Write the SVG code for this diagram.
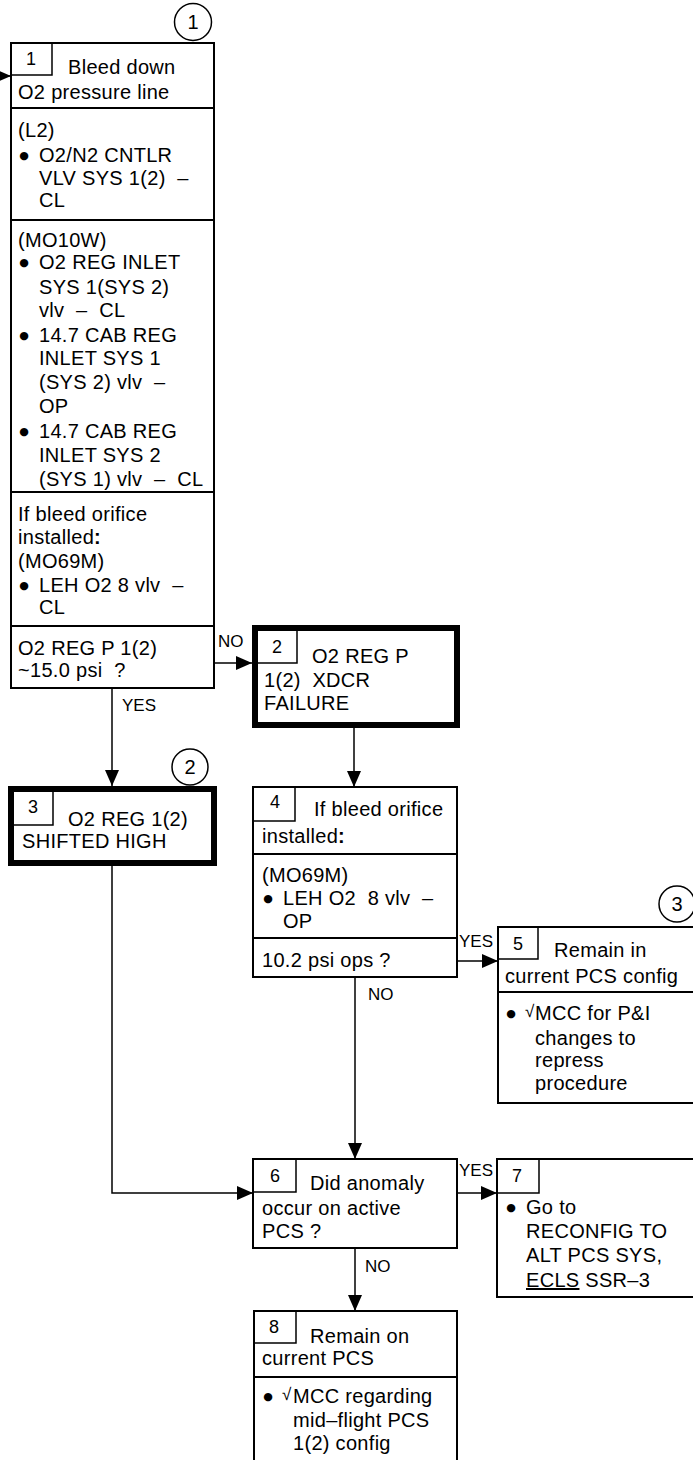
<svg xmlns="http://www.w3.org/2000/svg" width="693" height="1460" viewBox="0 0 693 1460">
<style>
text{font-family:"Liberation Sans",Arial,sans-serif;fill:#000}
.t{font-size:20px;letter-spacing:0.3px}
.n{font-size:18px;text-anchor:middle}
.l{font-size:17px}
.c{font-size:20px;text-anchor:middle}
.b{font-family:"DejaVu Sans",sans-serif;font-size:11px;text-anchor:middle}
.ck{font-family:"Liberation Sans",Arial,sans-serif;font-size:17px}
.box{fill:#fff;stroke:#000;stroke-width:2}
.thick{fill:#fff;stroke:#000;stroke-width:6}
.ln{fill:none;stroke:#000;stroke-width:1.5}
.div{fill:none;stroke:#000;stroke-width:2}
.cn{fill:none;stroke:#000;stroke-width:1.5;marker-end:url(#ah)}
.circ{fill:#fff;stroke:#000;stroke-width:1.5}
</style>
<defs>
<marker id="ah" markerUnits="userSpaceOnUse" markerWidth="16" markerHeight="14" refX="16" refY="7" orient="auto">
<path d="M0,0 L16,7 L0,14 z" fill="#000"/>
</marker>
</defs>
<rect width="693" height="1460" fill="#fff"/>

<g id="connectors">
<path class="cn" d="M-10 76 H11"/>
<path class="cn" d="M214 663 H252"/>
<path class="cn" d="M112 688 V786"/>
<path class="cn" d="M354 728 V787"/>
<path class="cn" d="M457 961 H498"/>
<path class="cn" d="M355 977 V1159"/>
<path class="cn" d="M112 866 V1193 H253"/>
<path class="cn" d="M457 1193 H497"/>
<path class="cn" d="M355 1248 V1311"/>
<text class="l" x="218" y="647">NO</text>
<text class="l" x="122" y="711">YES</text>
<text class="l" x="459" y="947">YES</text>
<text class="l" x="368" y="1000">NO</text>
<text class="l" x="459" y="1176">YES</text>
<text class="l" x="365" y="1272">NO</text>
</g>

<g id="circle1">
<circle class="circ" cx="193" cy="22" r="18.5"/>
<text class="c" x="193" y="29">1</text>
</g>
<g id="circle2">
<circle class="circ" cx="190" cy="767" r="18"/>
<text class="c" x="190" y="774">2</text>
</g>
<g id="circle3">
<circle class="circ" cx="677" cy="904" r="18"/>
<text class="c" x="677" y="911">3</text>
</g>

<g id="node1">
<rect class="box" x="11" y="43" width="203" height="645"/>
<path class="ln" d="M52 43 V75 H11"/>
<path class="div" d="M11 108 H214 M11 220 H214 M11 492 H214 M11 626 H214"/>
<text class="n" x="31" y="65">1</text>
<text class="t" x="68" y="74">Bleed down</text>
<text class="t" x="18" y="99">O2 pressure line</text>
<text class="t" x="18" y="137">(L2)</text>
<text class="b" x="24" y="159">●</text>
<text class="t" x="39" y="162">O2/N2 CNTLR</text>
<text class="t" x="39" y="185">VLV SYS 1(2) &#160;–</text>
<text class="t" x="39" y="207">CL</text>
<text class="t" x="18" y="247">(MO10W)</text>
<text class="b" x="24" y="266">●</text>
<text class="t" x="39" y="269">O2 REG INLET</text>
<text class="t" x="39" y="294">SYS 1(SYS 2)</text>
<text class="t" x="39" y="317">vlv &#160;– &#160;CL</text>
<text class="b" x="24" y="339">●</text>
<text class="t" x="39" y="342">14.7 CAB REG</text>
<text class="t" x="39" y="365">INLET SYS 1</text>
<text class="t" x="39" y="389">(SYS 2) vlv &#160;–</text>
<text class="t" x="39" y="413">OP</text>
<text class="b" x="24" y="435">●</text>
<text class="t" x="39" y="438">14.7 CAB REG</text>
<text class="t" x="39" y="462">INLET SYS 2</text>
<text class="t" x="39" y="486">(SYS 1) vlv &#160;– &#160;CL</text>
<text class="t" x="18" y="521">If bleed orifice</text>
<text class="t" x="18" y="544">installed<tspan font-weight="bold">:</tspan></text>
<text class="t" x="18" y="568">(MO69M)</text>
<text class="b" x="24" y="589">●</text>
<text class="t" x="39" y="592">LEH O2 8 vlv &#160;–</text>
<text class="t" x="39" y="614">CL</text>
<text class="t" x="18" y="655">O2 REG P 1(2)</text>
<text class="t" x="18" y="677">~15.0 psi &#160;?</text>
</g>

<g id="node2">
<rect class="thick" x="255" y="628" width="202" height="97"/>
<path class="ln" d="M297 628 V663 H255"/>
<text class="n" x="277" y="653">2</text>
<text class="t" x="312" y="663">O2 REG P</text>
<text class="t" x="264" y="687">1(2) &#160;XDCR</text>
<text class="t" x="264" y="710">FAILURE</text>
</g>

<g id="node3">
<rect class="thick" x="11" y="789" width="203" height="74"/>
<path class="ln" d="M53 789 V825 H11"/>
<text class="n" x="33" y="813">3</text>
<text class="t" x="68" y="826">O2 REG 1(2)</text>
<text class="t" x="22" y="848">SHIFTED HIGH</text>
</g>

<g id="node4">
<rect class="box" x="253" y="787" width="204" height="190"/>
<path class="ln" d="M295 787 V821 H253"/>
<path class="div" d="M253 854 H457"/>
<path class="div" d="M253 938 H457" stroke-width="2.5"/>
<text class="n" x="275" y="808">4</text>
<text class="t" x="314" y="816">If bleed orifice</text>
<text class="t" x="262" y="843">installed<tspan font-weight="bold">:</tspan></text>
<text class="t" x="262" y="882">(MO69M)</text>
<text class="b" x="268" y="902">●</text>
<text class="t" x="283" y="905">LEH O2 &#160;8 vlv &#160;–</text>
<text class="t" x="283" y="928">OP</text>
<text class="t" x="262" y="967">10.2 psi ops ?</text>
</g>

<g id="node5">
<rect class="box" x="498" y="927" width="197" height="176"/>
<path class="ln" d="M538 927 V959 H498"/>
<path class="div" d="M498 992 H695"/>
<text class="n" x="518" y="950">5</text>
<text class="t" x="554" y="957">Remain in</text>
<text class="t" x="505" y="983">current PCS config</text>
<text class="b" x="511" y="1017">●</text>
<text class="ck" x="525" y="1017">√</text>
<text class="t" x="535" y="1020">MCC for P&amp;I</text>
<text class="t" x="535" y="1045">changes to</text>
<text class="t" x="535" y="1067">repress</text>
<text class="t" x="535" y="1090">procedure</text>
</g>

<g id="node6">
<rect class="box" x="253" y="1159" width="204" height="89"/>
<path class="ln" d="M296 1159 V1192 H253"/>
<text class="n" x="275" y="1182">6</text>
<text class="t" x="310" y="1190">Did anomaly</text>
<text class="t" x="262" y="1215">occur on active</text>
<text class="t" x="262" y="1238">PCS ?</text>
</g>

<g id="node7">
<rect class="box" x="497" y="1159" width="198" height="138"/>
<path class="ln" d="M539 1159 V1193 H497"/>
<text class="n" x="517" y="1182">7</text>
<text class="b" x="511" y="1211">●</text>
<text class="t" x="526" y="1214">Go to</text>
<text class="t" x="526" y="1238">RECONFIG TO</text>
<text class="t" x="526" y="1262">ALT PCS SYS,</text>
<text class="t" x="526" y="1287"><tspan text-decoration="underline">ECLS</tspan> SSR–3</text>
</g>

<g id="node8">
<rect class="box" x="254" y="1311" width="203" height="170"/>
<path class="ln" d="M296 1311 V1343 H254"/>
<path class="div" d="M254 1377 H457"/>
<text class="n" x="274" y="1333">8</text>
<text class="t" x="310" y="1343">Remain on</text>
<text class="t" x="262" y="1365">current PCS</text>
<text class="b" x="268" y="1400">●</text>
<text class="ck" x="282" y="1400">√</text>
<text class="t" x="293" y="1403">MCC regarding</text>
<text class="t" x="293" y="1427">mid–flight PCS</text>
<text class="t" x="293" y="1450">1(2) config</text>
</g>
</svg>
